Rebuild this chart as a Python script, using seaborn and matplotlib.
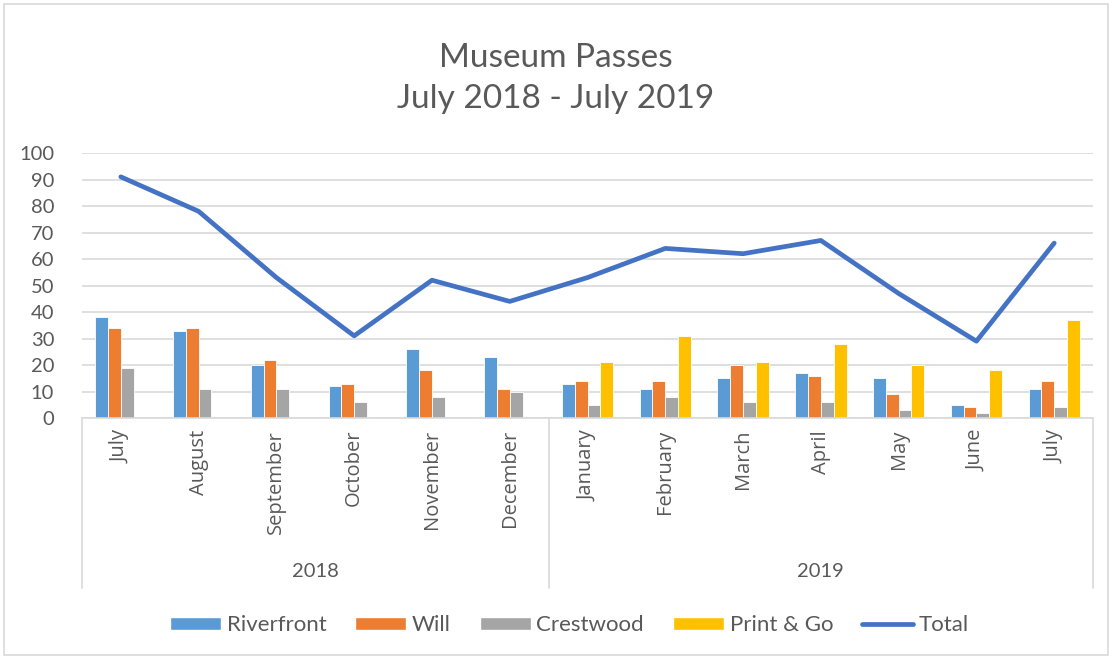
import matplotlib
matplotlib.use("Agg")
import matplotlib.pyplot as plt
import matplotlib.patches as mpatches
import matplotlib.lines as mlines
import matplotlib.transforms as mtransforms
import seaborn as sns
import pandas as pd
import numpy as np

months = ["July", "August", "September", "October", "November", "December",
          "January", "February", "March", "April", "May", "June", "July"]
years = ["2018", "2019"]
year_counts = [6, 7]
riverfront = [38, 33, 20, 12, 26, 23, 13, 11, 15, 17, 15, 5, 11]
will = [34, 34, 22, 13, 18, 11, 14, 14, 20, 16, 9, 4, 14]
crestwood = [19, 11, 11, 6, 8, 10, 5, 8, 6, 6, 3, 2, 4]
print_go = [None, None, None, None, None, None, 21, 31, 21, 28, 20, 18, 37]
total = [91, 78, 53, 31, 52, 44, 53, 64, 62, 67, 47, 29, 66]

series_names = ["Riverfront", "Will", "Crestwood", "Print & Go"]
series_vals = [riverfront, will, crestwood, print_go]
colors = {"Riverfront": "#5B9BD5", "Will": "#ED7D31", "Crestwood": "#A5A5A5",
          "Print & Go": "#FFC000"}
line_color = "#4472C4"
text_color = "#595959"
grid_color = "#D9D9D9"

rows = []
for name, vals in zip(series_names, series_vals):
    for i, v in enumerate(vals):
        if v is not None:
            rows.append({"idx": i, "series": name, "value": v})
df = pd.DataFrame(rows)
df_total = pd.DataFrame({"idx": list(range(len(total))), "value": total})

sns.set_theme(style="white")
plt.rcParams["font.family"] = ["Lato", "DejaVu Sans"]

fig = plt.figure(figsize=(11.12, 6.59), dpi=100)
ax = fig.add_axes([0.0737, 0.3657, 0.9093, 0.4021])

sns.barplot(data=df, x="idx", y="value", hue="series", hue_order=series_names,
            order=list(range(len(months))), palette=colors, width=0.66,
            saturation=1, edgecolor="white", linewidth=0.6, ax=ax, legend=False,
            errorbar=None)
sns.lineplot(data=df_total, x="idx", y="value", color=line_color, linewidth=3.4,
             ax=ax, legend=False)

ax.set_xlim(-0.5, len(months) - 0.5)
ax.set_ylim(0, 100)
ax.set_yticks(range(0, 101, 10))
ax.yaxis.grid(True, color=grid_color, linewidth=1.2)
ax.set_axisbelow(True)
for s in ["top", "right", "left"]:
    ax.spines[s].set_visible(False)
ax.spines["bottom"].set_color(grid_color)
ax.spines["bottom"].set_linewidth(1.2)
ax.tick_params(axis="y", length=0, labelsize=14.5, labelcolor=text_color, pad=20)
ax.tick_params(axis="x", length=0)
ax.set_xticklabels([])
ax.set_xlabel("")
ax.set_ylabel("")

trans = mtransforms.blended_transform_factory(ax.transData, ax.transAxes)
for i, m in enumerate(months):
    ax.text(i, -0.045, m, rotation=90, ha="center", va="top", fontsize=14.5,
            color=text_color, transform=trans, family=["Open Sans", "DejaVu Sans"])

# category group dividers and year labels
start = -0.5
bounds = [start]
for c in year_counts:
    bounds.append(bounds[-1] + c)
for b in bounds:
    ax.add_line(mlines.Line2D([b, b], [0, -0.64], transform=trans, color=grid_color,
                              linewidth=1.2, clip_on=False))
for y, a, b in zip(years, bounds[:-1], bounds[1:]):
    ax.text((a + b) / 2, -0.58, y, ha="center", va="center", fontsize=14.5,
            color=text_color, transform=trans)

fig.suptitle("Museum Passes\nJuly 2018 - July 2019", y=0.935, fontsize=24,
             color=text_color, linespacing=1.45, va="top")

handles = [mpatches.Patch(facecolor=colors[n], label=n) for n in series_names]
handles.append(mlines.Line2D([], [], color=line_color, linewidth=3.4, label="Total"))
fig.legend(handles=handles, loc="center", bbox_to_anchor=(0.512, 0.051), ncol=5,
           frameon=False, fontsize=16, handlelength=2.3, handleheight=0.55,
           columnspacing=1.3, handletextpad=0.25, labelcolor=text_color)

fig.add_artist(mpatches.Rectangle((0.004, 0.006), 0.992, 0.988, transform=fig.transFigure,
                                  fill=False, edgecolor=grid_color, linewidth=1.2))

fig.savefig("out.png", dpi=100)
